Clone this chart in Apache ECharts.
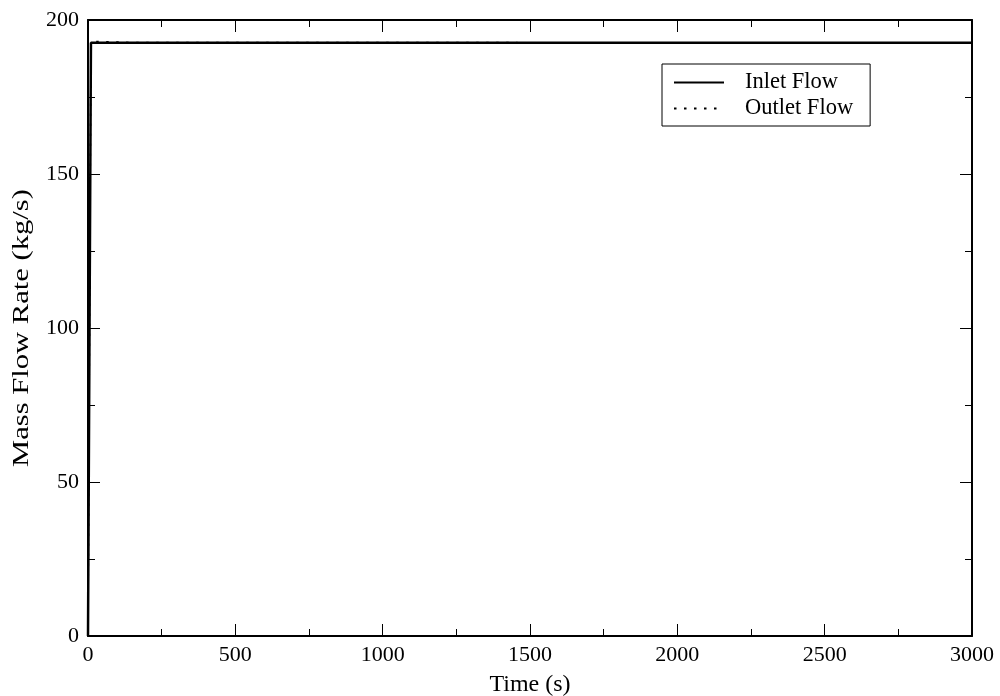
<!DOCTYPE html>
<html>
<head>
<meta charset="utf-8">
<script src="https://cdn.jsdelivr.net/npm/echarts@6/dist/echarts.min.js"></script>
<style>
  html, body { margin: 0; padding: 0; background: #fff; }
  #chart { width: 1000px; height: 696px; }
</style>
</head>
<body>
<div id="chart"></div>
<script>
// Time points (s) and mass flow rates (kg/s)
const inletTime = [0, 10, 3000];
const inletFlow = [0, 192.6, 192.6];
const outletTime = [0, 10, 150, 3000];
const outletFlow = [0, 193.1, 192.7, 192.6];

const seriesNames = ['Inlet Flow', 'Outlet Flow'];
const xTitle = 'Time (s)';
const yTitle = 'Mass Flow Rate (kg/s)';

const toPairs = (xs, ys) => xs.map((x, i) => [x, ys[i]]);

const FONT = '"Liberation Serif", "DejaVu Serif", serif';
const plainNumber = v => String(v);
const axisCommon = {
  type: 'value',
  axisLine: { show: true, onZero: false, lineStyle: { color: '#000', width: 2 } },
  axisTick: { show: true, inside: true, length: 12, lineStyle: { color: '#000', width: 1 } },
  minorTick: { show: true, splitNumber: 2, length: 7, lineStyle: { color: '#000', width: 1 } },
  splitLine: { show: false },
  minorSplitLine: { show: false }
};

const chart = echarts.init(document.getElementById('chart'), null, { renderer: 'canvas' });
chart.setOption({
  backgroundColor: '#fff',
  animation: false,
  grid: { left: 88, right: 28, top: 20, bottom: 60, containLabel: false, outerBoundsMode: 'none' },
  legend: {
    left: 662, top: 64,
    orient: 'vertical',
    data: seriesNames,
    backgroundColor: '#fff',
    borderColor: '#000', borderWidth: 1, borderRadius: 0,
    padding: [7, 17, 6, 11],
    itemWidth: 50, itemHeight: 22, itemGap: 3,
    itemStyle: { opacity: 0 },
    textStyle: { fontFamily: FONT, fontSize: 22.5, color: '#000', padding: [0, 0, 0, 16], lineHeight: 22 }
  },
  // rotated y-axis title, drawn slightly stretched along its length
  graphic: [{
    type: 'text',
    x: 22, y: 328,
    rotation: Math.PI / 2,
    scaleX: 1.33,
    style: {
      text: yTitle,
      font: '23px ' + FONT,
      fill: '#000',
      align: 'center',
      verticalAlign: 'middle'
    }
  }],
  xAxis: [
    Object.assign({}, axisCommon, {
      position: 'bottom', min: 0, max: 3000, interval: 500,
      name: xTitle, nameLocation: 'middle', nameGap: 37,
      nameTextStyle: { fontFamily: FONT, fontSize: 24, color: '#000' },
      axisLabel: { fontFamily: FONT, fontSize: 22, color: '#000', margin: 8, formatter: plainNumber }
    }),
    Object.assign({}, axisCommon, {
      position: 'top', min: 0, max: 3000, interval: 500,
      axisLabel: { show: false }
    })
  ],
  yAxis: [
    Object.assign({}, axisCommon, {
      position: 'left', min: 0, max: 200, interval: 50,
      axisLabel: { fontFamily: FONT, fontSize: 22, color: '#000', margin: 9, formatter: plainNumber }
    }),
    Object.assign({}, axisCommon, {
      position: 'right', min: 0, max: 200, interval: 50,
      axisLabel: { show: false }
    })
  ],
  series: [
    {
      name: seriesNames[0], type: 'line', xAxisIndex: 0, yAxisIndex: 0,
      data: toPairs(inletTime, inletFlow),
      showSymbol: false, symbol: 'none',
      lineStyle: { color: '#000', width: 2.5, type: 'solid' },
      itemStyle: { color: '#000' },
      z: 3
    },
    {
      name: seriesNames[1], type: 'line', xAxisIndex: 0, yAxisIndex: 0,
      data: toPairs(outletTime, outletFlow),
      showSymbol: false, symbol: 'none',
      lineStyle: { color: '#000', width: 1.5, type: [2.5, 7.5] },
      itemStyle: { color: '#000' },
      z: 4
    }
  ]
});
</script>
</body>
</html>
